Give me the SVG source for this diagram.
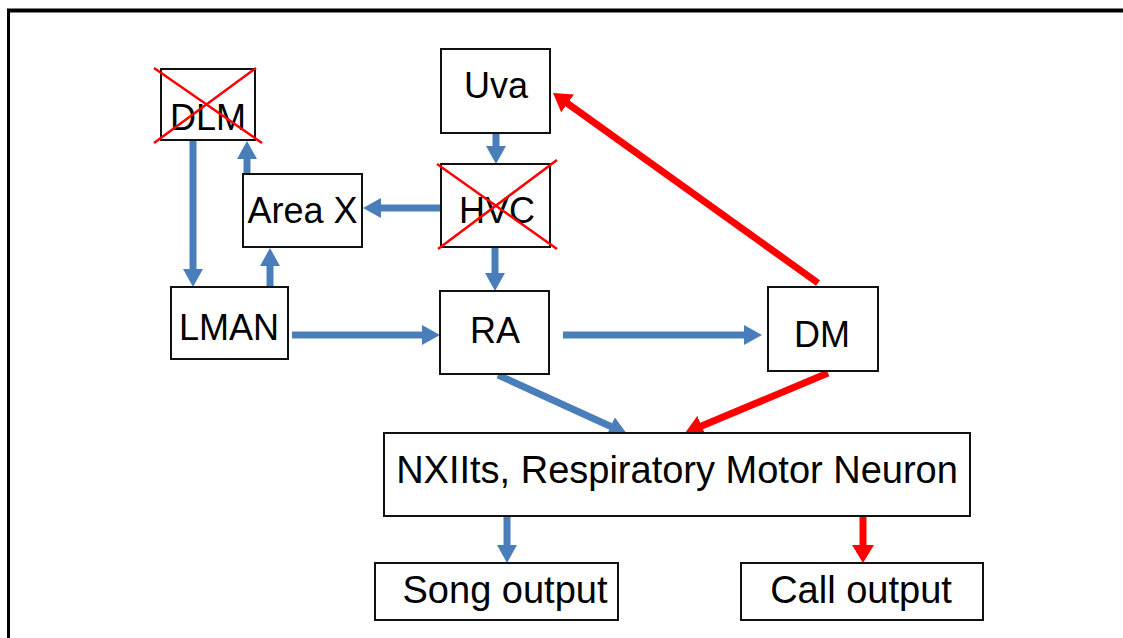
<svg xmlns="http://www.w3.org/2000/svg" width="1123" height="638" viewBox="0 0 1123 638">
<defs>
<style>
.box{fill:#fff;stroke:#111;stroke-width:2}
.lbl{font-family:"Liberation Sans",Arial,sans-serif;font-size:36px;fill:#000;text-anchor:middle}
.big{font-size:38px}
.blue{stroke:#4a7ebb;stroke-width:7;fill:none}
.red{stroke:#ff0000;stroke-width:7;fill:none}
.x{stroke:#ff0000;stroke-width:2.5}
</style>
<marker id="ab" markerUnits="userSpaceOnUse" markerWidth="18" markerHeight="20" refX="2" refY="10" orient="auto"><path d="M0,0 L18,10 L0,20 Z" fill="#4a7ebb"/></marker>
<marker id="ar" markerUnits="userSpaceOnUse" markerWidth="18" markerHeight="22" refX="2" refY="11" orient="auto"><path d="M0,0 L18,11 L0,22 Z" fill="#ff0000"/></marker>
</defs>
<rect width="1123" height="638" fill="#fff"/>
<g id="frame">
<line x1="7" y1="10.5" x2="1123" y2="10.5" stroke="#000" stroke-width="4"/>
<line x1="8.5" y1="9" x2="8.5" y2="638" stroke="#000" stroke-width="3"/>
</g>
<g id="connectors">
<line class="blue" x1="193" y1="140" x2="193" y2="271" marker-end="url(#ab)"/>
<line class="blue" x1="247" y1="174" x2="247" y2="157" marker-end="url(#ab)"/>
<line class="blue" x1="270" y1="287" x2="270" y2="264" marker-end="url(#ab)"/>
<line class="blue" x1="496" y1="133" x2="496" y2="148" marker-end="url(#ab)"/>
<line class="blue" x1="441" y1="208" x2="379" y2="208" marker-end="url(#ab)"/>
<line class="blue" x1="495" y1="247" x2="495" y2="275" marker-end="url(#ab)"/>
<line class="blue" x1="292" y1="335" x2="424" y2="335" marker-end="url(#ab)"/>
<line class="blue" x1="563" y1="335" x2="746" y2="335" marker-end="url(#ab)"/>
<line class="blue" x1="498" y1="375" x2="612.5" y2="427.3" marker-end="url(#ab)"/>
<line class="red" x1="828" y1="373" x2="699.8" y2="426.8" marker-end="url(#ar)"/>
<line class="red" x1="818" y1="283" x2="566" y2="102.3" marker-end="url(#ar)"/>
<line class="blue" x1="507" y1="516" x2="507" y2="547" marker-end="url(#ab)"/>
<line class="red" x1="863" y1="516" x2="863" y2="547" marker-end="url(#ar)"/>
</g>
<g id="DLM">
<rect class="box" x="161" y="69" width="94" height="71"/>
<text class="lbl" x="208" y="130">DLM</text>
<line class="x" x1="154" y1="68" x2="262" y2="143"/>
<line class="x" x1="154" y1="143" x2="256" y2="68"/>
</g>
<g id="AreaX">
<rect class="box" x="243" y="174" width="119" height="73"/>
<text class="lbl" x="302.5" y="223">Area X</text>
</g>
<g id="Uva">
<rect class="box" x="441" y="49" width="109" height="84"/>
<text class="lbl" x="496" y="98">Uva</text>
</g>
<g id="HVC">
<rect class="box" x="441" y="164" width="109" height="83"/>
<text class="lbl" x="497" y="223">HVC</text>
<line class="x" x1="437" y1="164" x2="557" y2="249"/>
<line class="x" x1="438" y1="249" x2="557" y2="160"/>
</g>
<g id="LMAN">
<rect class="box" x="171" y="287" width="117" height="72"/>
<text class="lbl" x="229" y="340">LMAN</text>
</g>
<g id="RA">
<rect class="box" x="440" y="291" width="109" height="83"/>
<text class="lbl" x="495" y="343">RA</text>
</g>
<g id="DM">
<rect class="box" x="768" y="287" width="110" height="84"/>
<text class="lbl" x="822" y="347">DM</text>
</g>
<g id="NXIIts">
<rect class="box" x="384" y="433" width="586" height="83"/>
<text class="lbl big" x="677" y="483">NXIIts, Respiratory Motor Neuron</text>
</g>
<g id="Song">
<rect class="box" x="375" y="563" width="243" height="57"/>
<text class="lbl big" x="505" y="603">Song output</text>
</g>
<g id="Call">
<rect class="box" x="741" y="563" width="242" height="57"/>
<text class="lbl big" x="861" y="603">Call output</text>
</g>
</svg>
